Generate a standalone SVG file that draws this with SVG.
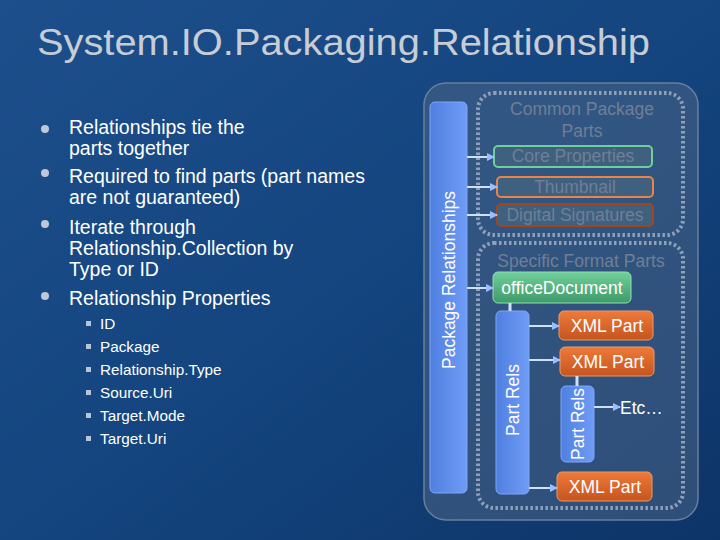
<svg xmlns="http://www.w3.org/2000/svg" width="720" height="540" viewBox="0 0 720 540">
<defs>
<linearGradient id="bg" x1="0" y1="0" x2="1" y2="1"><stop offset="0" stop-color="#1d4f8c"/><stop offset="0.5" stop-color="#14457f"/><stop offset="1" stop-color="#0d3468"/></linearGradient>
<linearGradient id="bar" x1="0" y1="0" x2="1" y2="0"><stop offset="0" stop-color="#4f7fe0"/><stop offset="1" stop-color="#6f9cf5"/></linearGradient>
<linearGradient id="orange" x1="0" y1="0" x2="0" y2="1"><stop offset="0" stop-color="#ee7a3a"/><stop offset="1" stop-color="#c5541e"/></linearGradient>
<linearGradient id="green" x1="0" y1="0" x2="0" y2="1"><stop offset="0" stop-color="#6fcf9a"/><stop offset="1" stop-color="#3f9a6a"/></linearGradient>
<marker id="ah" markerWidth="8" markerHeight="8" refX="7" refY="4" orient="auto" markerUnits="userSpaceOnUse"><path d="M0,0 L8,4 L0,8 Z" fill="#9bbcff"/></marker>
<style>
.t{font-family:"Liberation Sans",Arial,sans-serif;}
.bul{font-size:19.5px;fill:#ffffff;}
.sub{font-size:15.3px;fill:#ffffff;}
.dot{fill:none;stroke:#8fa0b8;stroke-width:4;stroke-dasharray:2.5 2.5;}
.dim{font-size:17.5px;fill:#6f7f95;}
.box{font-size:17.5px;fill:#ffffff;}
.vt{font-size:17.5px;fill:#ffffff;}
.conn line{stroke:#cfe0ff;stroke-width:2;marker-end:url(#ah);}
</style>
</defs>
<rect width="720" height="540" fill="url(#bg)"/>
<text class="t" x="37" y="55" font-size="37" fill="#c8ccd4" textLength="613" lengthAdjust="spacingAndGlyphs">System.IO.Packaging.Relationship</text>
<g id="bullets" class="t">
<g fill="#c0c8d8"><circle cx="45" cy="129" r="4"/><circle cx="45" cy="173" r="4"/><circle cx="45" cy="224" r="4"/><circle cx="45" cy="296" r="4"/></g>
<text class="bul" x="69" y="134">Relationships tie the</text>
<text class="bul" x="69" y="155">parts together</text>
<text class="bul" x="69" y="183">Required to find parts (part names</text>
<text class="bul" x="69" y="204">are not guaranteed)</text>
<text class="bul" x="69" y="234">Iterate through</text>
<text class="bul" x="69" y="255">Relationship.Collection by</text>
<text class="bul" x="69" y="276">Type or ID</text>
<text class="bul" x="69" y="305">Relationship Properties</text>
<g fill="#b8c4d8"><rect x="86" y="321" width="5" height="5"/><rect x="86" y="344" width="5" height="5"/><rect x="86" y="367" width="5" height="5"/><rect x="86" y="390" width="5" height="5"/><rect x="86" y="413" width="5" height="5"/><rect x="86" y="436" width="5" height="5"/></g>
<text class="sub" x="100" y="329">ID</text>
<text class="sub" x="100" y="352">Package</text>
<text class="sub" x="100" y="375">Relationship.Type</text>
<text class="sub" x="100" y="398">Source.Uri</text>
<text class="sub" x="100" y="421">Target.Mode</text>
<text class="sub" x="100" y="444">Target.Uri</text>
</g>
<rect x="424" y="83" width="274" height="437" rx="22" fill="#4a6485" fill-opacity="0.55" stroke="#6a7f9a" stroke-width="1.5"/>
<rect class="dot" x="478" y="93" width="205" height="142" rx="16"/>
<rect class="dot" x="478" y="243" width="205" height="265" rx="16"/>
<text class="t dim" x="582" y="115" text-anchor="middle">Common Package</text>
<text class="t dim" x="582" y="137" text-anchor="middle">Parts</text>
<text class="t dim" x="581" y="267" text-anchor="middle">Specific Format Parts</text>
<g id="pkgrels"><rect x="430" y="102" width="37" height="391" rx="5" fill="url(#bar)" stroke="#7fa6ff"/><text class="t vt" transform="translate(455,280) rotate(-90)" text-anchor="middle">Package Relationships</text></g>
<g id="core"><rect x="494" y="146" width="158" height="21" rx="4" fill="#40607f" stroke="#6fcf9a" stroke-width="2"/><text class="t dim" x="573" y="162" text-anchor="middle">Core Properties</text></g>
<g id="thumb"><rect x="497" y="177" width="156" height="20" rx="4" fill="#40607f" stroke="#e8844a" stroke-width="2"/><text class="t dim" x="575" y="193" text-anchor="middle">Thumbnail</text></g>
<g id="digsig"><rect x="497" y="204" width="156" height="22" rx="4" fill="#40607f" stroke="#a0461c" stroke-width="2"/><text class="t dim" x="575" y="221" text-anchor="middle">Digital Signatures</text></g>
<g id="officedoc"><rect x="493" y="272" width="138" height="31" rx="5" fill="url(#green)" stroke="#8fe0b0"/><text class="t box" x="562" y="294" text-anchor="middle">officeDocument</text></g>
<g id="partrels1"><rect x="496" y="311" width="33" height="183" rx="5" fill="url(#bar)" stroke="#7fa6ff"/><text class="t vt" transform="translate(519,400) rotate(-90)" text-anchor="middle">Part Rels</text></g>
<g id="xml1"><rect x="559" y="311" width="94" height="29" rx="5" fill="url(#orange)" stroke="#f09a60"/><text class="t box" x="607" y="332" text-anchor="middle">XML Part</text></g>
<g id="xml2"><rect x="560" y="347" width="94" height="29" rx="5" fill="url(#orange)" stroke="#f09a60"/><text class="t box" x="608" y="368" text-anchor="middle">XML Part</text></g>
<g id="partrels2"><rect x="561" y="386" width="33" height="76" rx="5" fill="url(#bar)" stroke="#7fa6ff"/><text class="t vt" transform="translate(584,424) rotate(-90)" text-anchor="middle">Part Rels</text></g>
<g id="etc"><text class="t box" x="620" y="414">Etc…</text></g>
<g id="xml3"><rect x="557" y="472" width="95" height="29" rx="5" fill="url(#orange)" stroke="#f09a60"/><text class="t box" x="605" y="493" text-anchor="middle">XML Part</text></g>
<g id="connectors" class="conn">
<line x1="467" y1="157" x2="494" y2="157"/>
<line x1="467" y1="187" x2="497" y2="187"/>
<line x1="467" y1="215" x2="497" y2="215"/>
<line x1="467" y1="288" x2="493" y2="288"/>
<line x1="529" y1="326" x2="559" y2="326"/>
<line x1="529" y1="360" x2="560" y2="360"/>
<line x1="594" y1="407" x2="620" y2="407"/>
<line x1="529" y1="488" x2="557" y2="488"/>
<path d="M510,303 V311 M577,376 V386" stroke="#cfe0ff" stroke-width="3" fill="none"/>
</g>
</svg>
